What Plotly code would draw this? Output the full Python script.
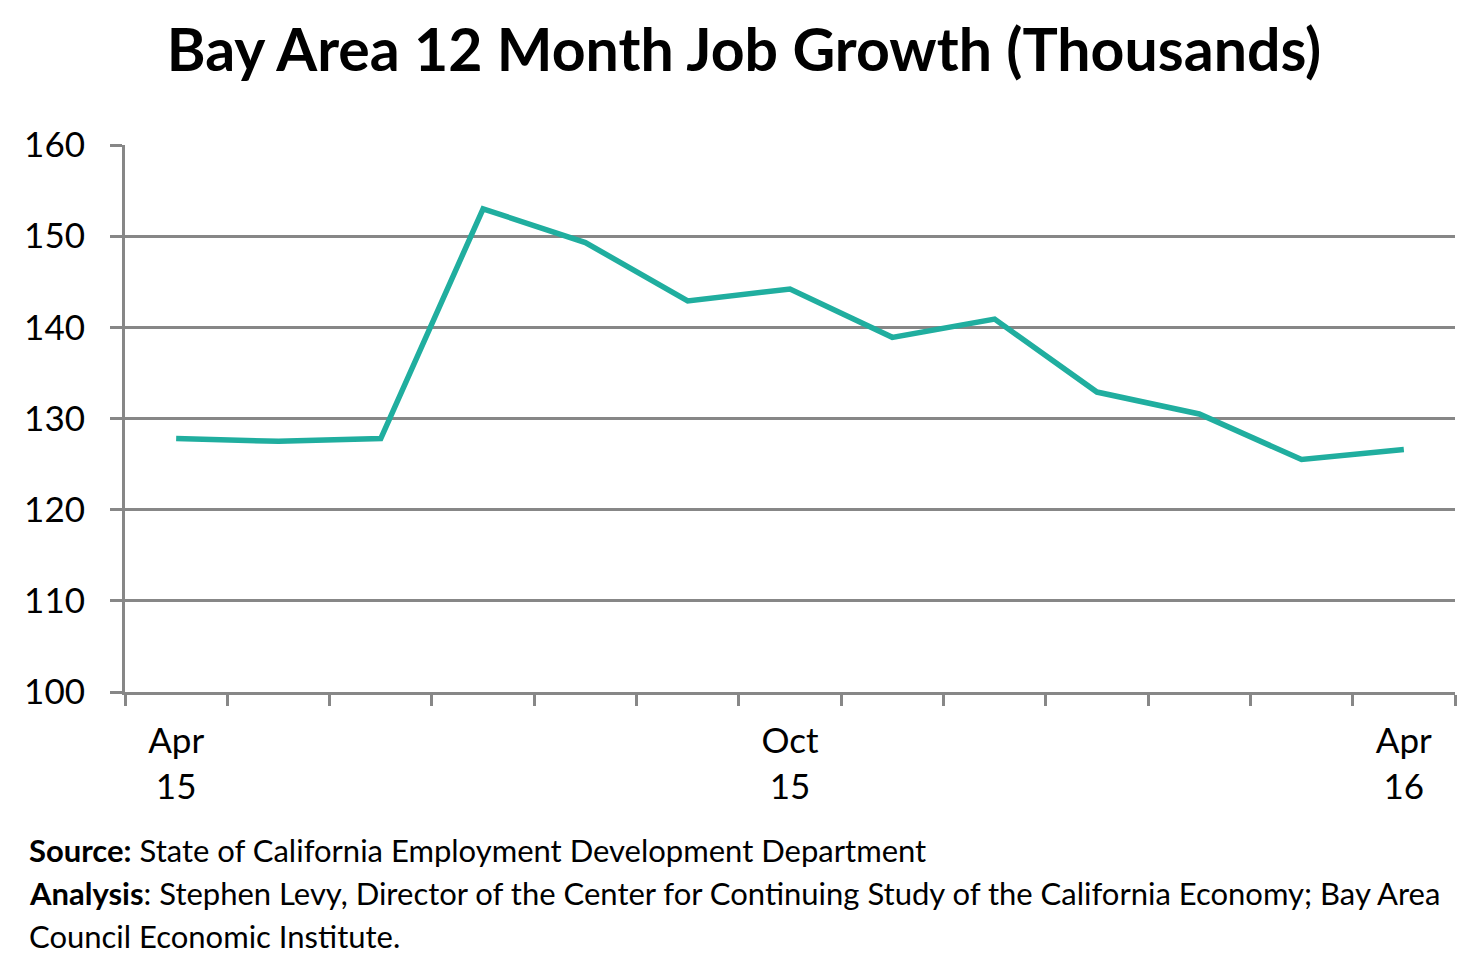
import plotly.graph_objects as go

months = ["Apr 15", "May 15", "Jun 15", "Jul 15", "Aug 15", "Sep 15", "Oct 15",
          "Nov 15", "Dec 15", "Jan 16", "Feb 16", "Mar 16", "Apr 16"]
job_growth = [127.8, 127.5, 127.8, 153.0, 149.3, 142.9, 144.2, 138.9, 140.9, 132.9, 130.5, 125.5, 126.6]
tick_positions = [0, 6, 12]
tick_labels = ["Apr<br>15", "Oct<br>15", "Apr<br>16"]
y_ticks = [100, 110, 120, 130, 140, 150, 160]

W, H = 1483, 970
OFF = 8  # page body margin
L, R, T, B = 125 - OFF, 1455 - OFF, 145 - OFF, 692 - OFF

fig = go.Figure()
fig.add_trace(go.Scatter(
    x=list(range(len(months))), y=job_growth, mode="lines",
    line=dict(color="#20AE9F", width=5.5), text=months,
    hovertemplate="%{text}: %{y}<extra></extra>", showlegend=False,
))

gray = "#878787"
fig.update_layout(
    width=W, height=H,
    margin=dict(l=L, r=W - R, t=T, b=H - B, pad=0),
    paper_bgcolor="white", plot_bgcolor="white",
    font=dict(family="Lato, sans-serif", color="black"),
    title=dict(text="<b>Bay Area 12 Month Job Growth (Thousands)</b>",
               x=(744 - OFF) / W, xanchor="center", y=1 - (50 - OFF) / H, yanchor="middle",
               font=dict(size=59, family="Lato, sans-serif", color="black")),
    xaxis=dict(
        range=[-0.5, 12.5], showgrid=False, zeroline=False,
        tickmode="array", tickvals=tick_positions, ticktext=tick_labels,
        ticks="", ticklabelstandoff=16,
        tickfont=dict(size=35, family="Lato, sans-serif", color="black"),
        showline=True, linecolor=gray, linewidth=3,
        minor=dict(ticks="outside", tick0=-0.5, dtick=1, ticklen=11,
                   tickwidth=3, tickcolor=gray, showgrid=False),
    ),
    yaxis=dict(
        range=[100, 160], tickmode="array", tickvals=y_ticks,
        showgrid=True, gridcolor=gray, gridwidth=3, zeroline=False,
        ticks="outside", ticklen=12, tickwidth=3, tickcolor=gray,
        showline=True, linecolor=gray, linewidth=3,
        tickfont=dict(size=35, family="Lato, sans-serif", color="black"),
        ticklabelstandoff=18,
    ),
)

footer = [
    "<b>Source:</b> State of California Employment Development Department",
    "<b>Analysis</b>: Stephen Levy, Director of the Center for Continuing Study of the California Economy; Bay Area",
    "Council Economic Institute.",
]
for txt, yc in zip(footer, [850, 893, 936]):
    fig.add_annotation(
        text=txt, xref="paper", yref="paper",
        x=(27 - OFF - L) / (R - L), y=(B - (yc - OFF)) / (B - T),
        xanchor="left", yanchor="middle", showarrow=False, align="left",
        font=dict(size=31, family="Lato, sans-serif", color="black"),
    )

fig.write_html("out.html")
